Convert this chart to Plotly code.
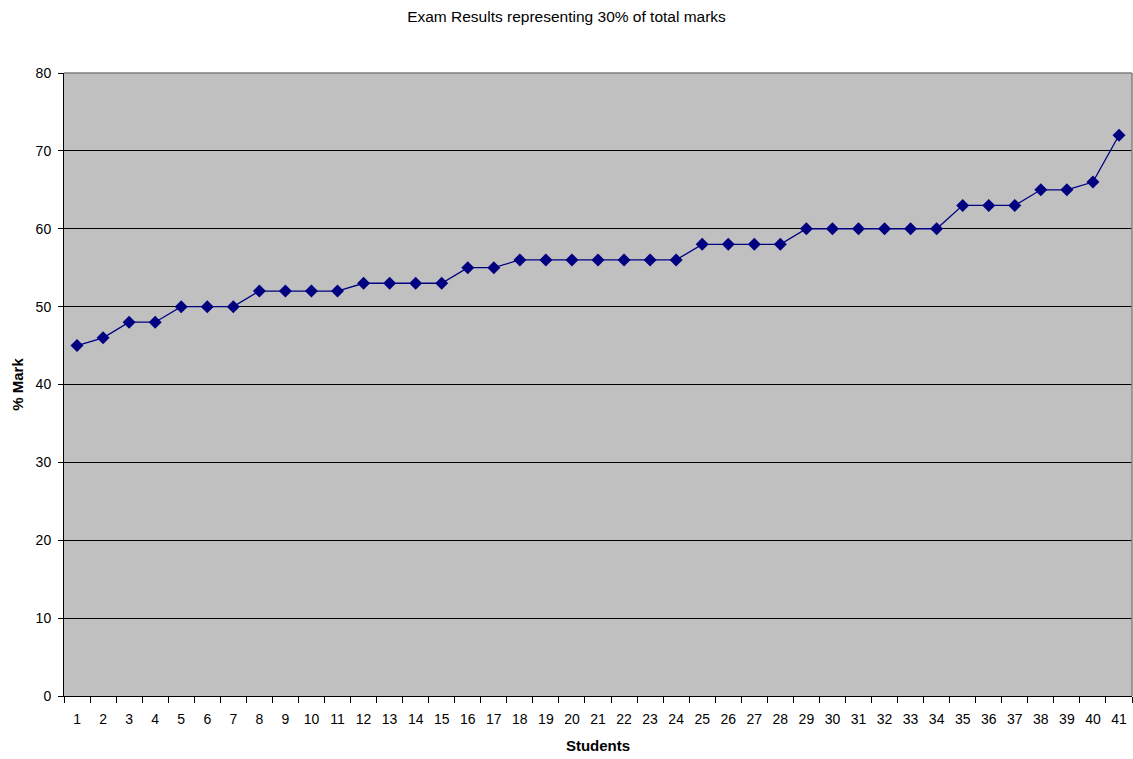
import plotly.graph_objects as go

students = [str(i) for i in range(1, 42)]
marks = [45, 46, 48, 48, 50, 50, 50, 52, 52, 52, 52, 53, 53, 53, 53, 55, 55, 56, 56, 56,
         56, 56, 56, 56, 58, 58, 58, 58, 60, 60, 60, 60, 60, 60, 63, 63, 63, 65, 65, 66, 72]
y_ticks = [0, 10, 20, 30, 40, 50, 60, 70, 80]

font_family = "Liberation Sans, Arial, sans-serif"

fig = go.Figure()
fig.add_trace(go.Scatter(
    x=students, y=marks, mode="lines+markers",
    line=dict(color="#000080", width=1.3),
    marker=dict(symbol="diamond", size=10, color="#000080"),
    showlegend=False,
))

fig.update_layout(
    width=1133, height=759, autosize=False,
    margin=dict(l=64, r=1, t=73, b=63),
    paper_bgcolor="white", plot_bgcolor="#c0c0c0",
    font=dict(family=font_family, size=14, color="black"),
    title=dict(text="Exam Results representing 30% of total marks", x=0.5, xref="container",
               xanchor="center", y=1 - 17 / 759, yanchor="middle",
               font=dict(size=15.5, color="black")),
    xaxis=dict(type="category", range=[-0.5, 40.5], tickson="boundaries",
               ticks="outside", ticklen=6, tickcolor="black", showline=True,
               linecolor="black", linewidth=1, showgrid=False, zeroline=False,
               ticklabelstandoff=10,
               title=dict(text="<b>Students</b>", font=dict(size=15), standoff=14),
               tickfont=dict(size=14)),
    yaxis=dict(range=[0, 80], tickvals=y_ticks, ticks="outside", ticklen=5,
               tickcolor="black", showline=True, linecolor="black", linewidth=1,
               showgrid=True, gridcolor="black", gridwidth=1, zeroline=False,
               ticklabelstandoff=4,
               title=dict(text="<b>% Mark</b>", font=dict(size=15), standoff=8),
               tickfont=dict(size=14)),
    shapes=[
        dict(type="line", xref="x domain", yref="y domain", x0=0, x1=1, y0=1, y1=1,
             line=dict(color="#808080", width=1.5), layer="above"),
        dict(type="line", xref="x domain", yref="y domain", x0=1, x1=1, y0=0, y1=1,
             line=dict(color="#808080", width=1.5), layer="above"),
    ],
)

fig.write_html("out.html", config={"displayModeBar": False},
               post_script="document.body.style.margin='0';")
